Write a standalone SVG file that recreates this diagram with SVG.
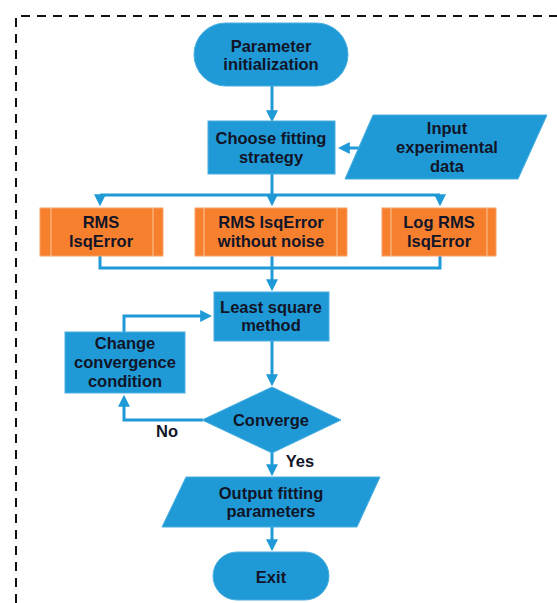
<svg xmlns="http://www.w3.org/2000/svg" width="557" height="603" viewBox="0 0 557 603">
<defs>
<style>
.b{fill:#1f9ad7;stroke:#4aaee0;stroke-width:1}
.o{fill:#f7802f;stroke:#f9a066;stroke-width:1}
.in{stroke:#fbb98a;stroke-width:1.2}
.t{font-family:"Liberation Sans",Arial,sans-serif;font-weight:bold;font-size:16.5px;fill:#111527;text-anchor:middle}
.c{fill:none;stroke:#1f9ad7;stroke-width:3}
</style>
<marker id="ah" markerWidth="4" markerHeight="4" refX="2.6" refY="2" orient="auto" markerUnits="strokeWidth">
<path d="M0,0 L4,2 L0,4 Z" fill="#1f9ad7"/>
</marker>
</defs>
<rect width="557" height="603" fill="#ffffff"/>
<path d="M16,603 V16 H557" fill="none" stroke="#111" stroke-width="2" stroke-dasharray="9,7"/>

<g id="connectors">
<path class="c" d="M272,86 V118" marker-end="url(#ah)"/>
<path class="c" d="M362,148 H342" marker-end="url(#ah)"/>
<path class="c" d="M272,174 V195 M100,195 H440"/>
<path class="c" d="M100,195 V202" marker-end="url(#ah)"/>
<path class="c" d="M272,195 V202" marker-end="url(#ah)"/>
<path class="c" d="M440,195 V202" marker-end="url(#ah)"/>
<path class="c" d="M100,256 V268 H440 V256 M272,256 V268"/>
<path class="c" d="M272,268 V287" marker-end="url(#ah)"/>
<path class="c" d="M124,332 V316 H208" marker-end="url(#ah)"/>
<path class="c" d="M272,341 V382" marker-end="url(#ah)"/>
<path class="c" d="M203,420 H124 V399" marker-end="url(#ah)"/>
<path class="c" d="M272,452 V472" marker-end="url(#ah)"/>
<path class="c" d="M272,527 V547" marker-end="url(#ah)"/>
</g>

<g id="n-param">
<rect class="b" x="194" y="23" width="154" height="63" rx="31.5"/>
<text class="t" x="271" y="52">Parameter</text>
<text class="t" x="271" y="70">initialization</text>
</g>
<g id="n-choose">
<rect class="b" x="208" y="121" width="127" height="53"/>
<text class="t" x="271" y="144">Choose fitting</text>
<text class="t" x="271" y="163">strategy</text>
</g>
<g id="n-input">
<polygon class="b" points="373,115 547,115 518,179 345,179"/>
<text class="t" x="447" y="134">Input</text>
<text class="t" x="447" y="153">experimental</text>
<text class="t" x="447" y="172">data</text>
</g>
<g id="n-rms">
<rect class="o" x="40" y="208" width="123" height="48"/>
<path class="in" d="M51,208 V256 M153,208 V256"/>
<text class="t" x="101" y="228">RMS</text>
<text class="t" x="101" y="247">lsqError</text>
</g>
<g id="n-rmsnoise">
<rect class="o" x="195" y="208" width="152" height="48"/>
<path class="in" d="M204,208 V256 M337,208 V256"/>
<text class="t" x="271" y="228">RMS lsqError</text>
<text class="t" x="271" y="247">without noise</text>
</g>
<g id="n-logrms">
<rect class="o" x="382" y="208" width="114" height="48"/>
<path class="in" d="M391,208 V256 M487,208 V256"/>
<text class="t" x="439" y="228">Log RMS</text>
<text class="t" x="439" y="247">lsqError</text>
</g>
<g id="n-lsq">
<rect class="b" x="214" y="292" width="115" height="49"/>
<text class="t" x="271" y="313">Least square</text>
<text class="t" x="271" y="331">method</text>
</g>
<g id="n-change">
<rect class="b" x="65" y="332" width="120" height="61"/>
<text class="t" x="125" y="349">Change</text>
<text class="t" x="125" y="368">convergence</text>
<text class="t" x="125" y="387">condition</text>
</g>
<g id="n-converge">
<polygon class="b" points="272,387 341,420 272,453 202,420"/>
<text class="t" x="271" y="426">Converge</text>
</g>
<text class="t" x="167" y="437">No</text>
<text class="t" x="300" y="467">Yes</text>
<g id="n-output">
<polygon class="b" points="186,477 380,477 357,527 162,527"/>
<text class="t" x="271" y="499">Output fitting</text>
<text class="t" x="271" y="517">parameters</text>
</g>
<g id="n-exit">
<rect class="b" x="213" y="552" width="116" height="48" rx="24"/>
<text class="t" x="271" y="583">Exit</text>
</g>
</svg>
